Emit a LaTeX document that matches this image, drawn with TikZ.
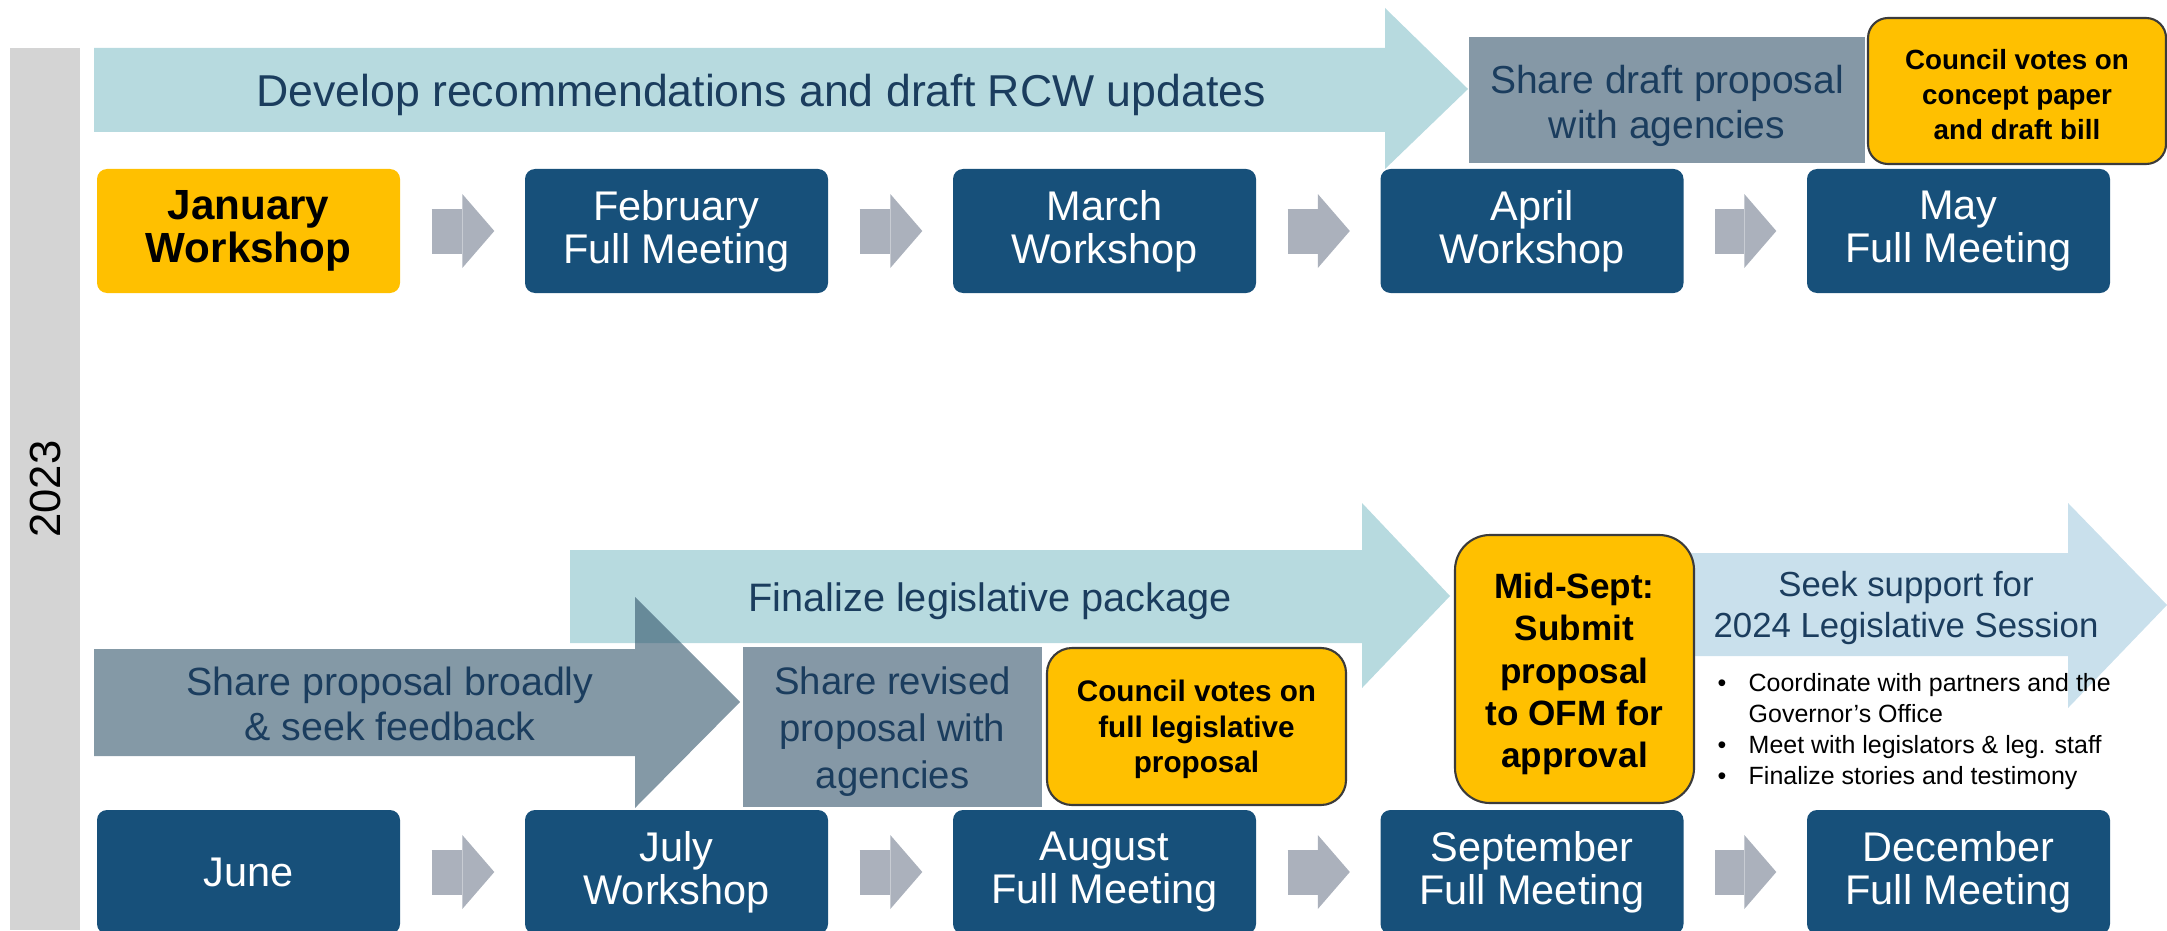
\documentclass[tikz,border=0pt]{standalone}
\usepackage{fontspec}
\setmainfont{Liberation Sans}
\usetikzlibrary{arrows.meta}
\definecolor{monthblue}{HTML}{17507A}
\definecolor{stepgray}{HTML}{ABB1BC}
\definecolor{devteal}{HTML}{B7DADF}
\definecolor{sharegray}{HTML}{8598A6}
\definecolor{sharedark}{HTML}{32556B}
\definecolor{seekblue}{HTML}{C9E0EC}
\definecolor{voteyellow}{HTML}{FFC000}
\definecolor{yeargray}{HTML}{D4D4D4}
\definecolor{labelnavy}{HTML}{1B3D5E}
\definecolor{voteedge}{HTML}{3B3B3B}
\begin{document}
\begin{tikzpicture}[x=1mm,y=1mm]
\tikzstyle{every node}+=[inner sep=0pt]
\tikzstyle{monthbox}=[fill=monthblue, rounded corners=1mm, minimum width=30.3mm, minimum height=12.4mm, align=center, text=white, font=\fontsize{11.8}{12.2}\selectfont]
\tikzstyle{firstbox}=[monthbox, fill=voteyellow, text=black, font=\fontsize{12}{12.2}\selectfont\bfseries]
\tikzstyle{votebox}=[fill=voteyellow, draw=voteedge, line width=0.6pt, align=center]
\tikzstyle{sharebox}=[fill=sharegray, text=labelnavy, align=center]
\tikzstyle{arrowlabel}=[text=labelnavy, align=center]
\tikzstyle{steparrow}=[stepgray, line width=4.5mm, -{Triangle[width=7.4mm,length=3.2mm,line width=0pt]}, shorten <=3.1mm, shorten >=3mm]
\useasboundingbox (0,0) rectangle (216.7,-93);
% year
\fill[yeargray] (1,-4.8) rectangle (8,-93);
\node[rotate=90, font=\fontsize{12.4}{14}\selectfont] (year) at (4.5,-48.9) {2023};
% first half
\fill[devteal] (9.4,-4.8) -- (138.5,-4.8) -- (138.5,-0.8) -- (146.8,-8.9) -- (138.5,-16.9) -- (138.5,-13.2) -- (9.4,-13.2) -- cycle;
\node[arrowlabel, font=\fontsize{12.7}{15}\selectfont] (develop) at (76.1,-9.5) {Develop recommendations and draft RCW updates};
\node[sharebox, minimum width=39.6mm, minimum height=12.6mm, font=\fontsize{11.1}{12.8}\selectfont] (sharedraft) at (166.7,-10) {\rule{0pt}{11.2pt}Share draft proposal\\with agencies};
\node[votebox, rounded corners=2mm, minimum width=29.8mm, minimum height=14.6mm, font=\fontsize{7.9}{9.9}\selectfont\bfseries] (voteconcept) at (201.7,-9.1) {\rule{0pt}{7.8pt}Council votes on\\concept paper\\and draft bill};
\node[firstbox] (jan) at (24.85,-23.1) {January\\Workshop};
\node[monthbox] (feb) at (67.65,-23.1) {February\\Full Meeting};
\node[monthbox] (mar) at (110.45,-23.1) {March\\Workshop};
\node[monthbox] (apr) at (153.2,-23.1) {April\\Workshop};
\node[monthbox] (may) at (195.85,-23.1) {May\\Full Meeting};
\draw[steparrow] (jan.east) -- (feb.west);
\draw[steparrow] (feb.east) -- (mar.west);
\draw[steparrow] (mar.east) -- (apr.west);
\draw[steparrow] (apr.east) -- (may.west);
% second half
\fill[devteal] (57,-55) -- (136.2,-55) -- (136.2,-50.3) -- (145,-59.6) -- (136.2,-68.8) -- (136.2,-64.3) -- (57,-64.3) -- cycle;
\node[arrowlabel, font=\fontsize{11.3}{13}\selectfont] (finalize) at (99,-60.1) {Finalize legislative package};
\fill[sharedark, fill opacity=0.6] (9.4,-64.9) -- (63.5,-64.9) -- (63.5,-59.7) -- (74,-70.2) -- (63.5,-80.8) -- (63.5,-75.6) -- (9.4,-75.6) -- cycle;
\node[arrowlabel, font=\fontsize{11.2}{12.8}\selectfont] (broadly) at (39,-70.4) {Share proposal broadly\\\& seek feedback};
\node[sharebox, minimum width=29.9mm, minimum height=16mm, font=\fontsize{10.9}{13.4}\selectfont] (sharerevised) at (89.25,-72.7) {\rule{0pt}{10.3pt}Share revised\\proposal with\\agencies};
\node[votebox, rounded corners=2.5mm, minimum width=29.9mm, minimum height=15.7mm, font=\fontsize{8.45}{10}\selectfont\bfseries] (votefull) at (119.65,-72.65) {\rule{0pt}{7.8pt}Council votes on\\full legislative\\proposal};
\fill[seekblue] (165,-55.3) -- (206.8,-55.3) -- (206.8,-50.3) -- (216.7,-60.5) -- (206.8,-70.8) -- (206.8,-65.6) -- (165,-65.6) -- cycle;
\node[arrowlabel, font=\fontsize{9.9}{11.8}\selectfont] (seek) at (190.6,-60.8) {Seek support for\\2024 Legislative Session};
\node[votebox, rounded corners=3.5mm, minimum width=23.9mm, minimum height=26.8mm, font=\fontsize{10}{12}\selectfont\bfseries] (midsept) at (157.45,-66.9) {\rule{0pt}{10.1pt}Mid-Sept:\\Submit\\proposal\\to OFM for\\approval};
\node[anchor=north west, align=left, font=\fontsize{7.1}{8.8}\selectfont] (notes) at (171.7,-67.3) {\makebox[3.1mm][l]{\textbullet}Coordinate with partners and the\\\hspace*{3.1mm}Governor’s Office\\\makebox[3.1mm][l]{\textbullet}Meet with legislators \& leg. staff\\\makebox[3.1mm][l]{\textbullet}Finalize stories and testimony};
\node[monthbox] (jun) at (24.85,-87.2) {June};
\node[monthbox] (jul) at (67.65,-87.2) {July\\Workshop};
\node[monthbox] (aug) at (110.45,-87.2) {August\\Full Meeting};
\node[monthbox] (sep) at (153.2,-87.2) {September\\Full Meeting};
\node[monthbox] (dec) at (195.85,-87.2) {December\\Full Meeting};
\draw[steparrow] (jun.east) -- (jul.west);
\draw[steparrow] (jul.east) -- (aug.west);
\draw[steparrow] (aug.east) -- (sep.west);
\draw[steparrow] (sep.east) -- (dec.west);
\end{tikzpicture}
\end{document}
